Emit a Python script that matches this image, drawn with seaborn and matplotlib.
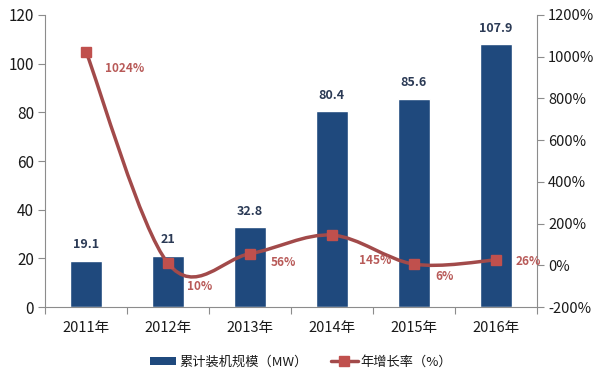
import numpy as np
import matplotlib
matplotlib.use("Agg")
import matplotlib.pyplot as plt
from matplotlib.path import Path
from matplotlib.patches import PathPatch, Patch
from matplotlib.lines import Line2D
import matplotlib.ticker as mticker
import seaborn as sns

sns.set_theme(style="white")
plt.rcParams["font.family"] = ["Noto Sans CJK SC", "DejaVu Sans"]

# ---------------------------------------------------------------------------
# Data
# ---------------------------------------------------------------------------
years = ["2011年", "2012年", "2013年", "2014年", "2015年", "2016年"]
capacity_mw = [19.1, 21, 32.8, 80.4, 85.6, 107.9]
growth_pct = [1024, 10, 56, 145, 6, 26]

BAR_COLOR = "#1F497D"
LINE_COLOR = "#A24A4A"
MARKER_COLOR = "#C0504D"
BAR_LABEL_COLOR = "#2B3A55"
PCT_LABEL_COLOR = "#B85A58"
SPINE_COLOR = "#8C8C8C"
TEXT_COLOR = "#1A1A1A"

# label offsets (points) for growth annotations
pct_offsets = [(28, -12), (23, -17), (24, -6), (31, -18), (22, -9), (23, -1)]

fig = plt.figure(figsize=(6.02, 3.82), dpi=100)
ax = fig.add_axes([0.0748, 0.196, 0.817, 0.765])

sns.barplot(x=years, y=capacity_mw, color=BAR_COLOR, width=0.39, saturation=1, ax=ax)
ax.bar_label(ax.containers[0], labels=[f"{v:g}" for v in capacity_mw], padding=7,
             fontsize=9, fontweight="bold", color=BAR_LABEL_COLOR)

ax.set_xlim(-0.5, 5.5)
ax.set_ylim(0, 120)
ax.set_yticks(range(0, 121, 20))
ax.set_xlabel("")
ax.set_ylabel("")
ax.xaxis.set_minor_locator(mticker.FixedLocator(np.arange(-0.5, 6, 1)))
ax.tick_params(axis="x", which="major", length=0, pad=10, labelsize=10.5, colors=TEXT_COLOR)
ax.tick_params(axis="x", which="minor", length=5, width=0.8, color=SPINE_COLOR, bottom=True)
ax.tick_params(axis="y", which="major", length=5, width=0.8, color=SPINE_COLOR, left=True,
               labelsize=11, labelcolor=TEXT_COLOR, pad=3)
for side in ["top", "right"]:
    ax.spines[side].set_visible(False)
for side in ["left", "bottom"]:
    ax.spines[side].set_color(SPINE_COLOR)
    ax.spines[side].set_linewidth(0.8)

# ---------------------------------------------------------------------------
# Growth rate on secondary axis, smoothed like Excel
# ---------------------------------------------------------------------------
ax2 = ax.twinx()
ax2.set_ylim(-200, 1200)
ax2.set_yticks(range(-200, 1201, 200))
ax2.yaxis.set_major_formatter(mticker.FuncFormatter(lambda v, _: f"{v:.0f}%"))
ax2.tick_params(axis="y", length=5, width=0.8, color=SPINE_COLOR, right=True,
                labelsize=10.5, labelcolor=TEXT_COLOR, pad=3)
for side in ["top", "left", "bottom"]:
    ax2.spines[side].set_visible(False)
ax2.spines["right"].set_color(SPINE_COLOR)
ax2.spines["right"].set_linewidth(0.8)
ax2.grid(False)
ax.grid(False)

xs = np.arange(len(growth_pct), dtype=float)
ys = np.array(growth_pct, dtype=float)
verts = [(xs[0], ys[0])]
codes = [Path.MOVETO]
n = len(xs)
for i in range(n - 1):
    p0 = np.array([xs[max(i - 1, 0)], ys[max(i - 1, 0)]])
    p1 = np.array([xs[i], ys[i]])
    p2 = np.array([xs[i + 1], ys[i + 1]])
    p3 = np.array([xs[min(i + 2, n - 1)], ys[min(i + 2, n - 1)]])
    c1 = p1 + (p2 - p0) / 6
    c2 = p2 - (p3 - p1) / 6
    verts += [tuple(c1), tuple(c2), tuple(p2)]
    codes += [Path.CURVE4] * 3
ax2.add_patch(PathPatch(Path(verts, codes), facecolor="none", edgecolor=LINE_COLOR,
                        lw=2.5, capstyle="round", joinstyle="round", zorder=3))
ax2.plot(xs, ys, ls="none", marker="s", ms=7, color=MARKER_COLOR, zorder=4)

for x, y, off in zip(xs, ys, pct_offsets):
    ax2.annotate(f"{y:.0f}%", (x, y), xytext=off, textcoords="offset points",
                 ha="center", va="center", fontsize=8.5, fontweight="bold",
                 color=PCT_LABEL_COLOR, zorder=5)

# ---------------------------------------------------------------------------
# Legend
# ---------------------------------------------------------------------------
handles = [
    Patch(facecolor=BAR_COLOR, edgecolor="none"),
    Line2D([0], [0], color=LINE_COLOR, lw=2.5, marker="s", ms=7,
           markerfacecolor=MARKER_COLOR, markeredgecolor=MARKER_COLOR),
]
fig.legend(handles, ["累计装机规模（MW）", "年增长率（%）"], loc="center",
           bbox_to_anchor=(0.5, 0.052), ncol=2, frameon=False, fontsize=9.5,
           handlelength=2.0, handleheight=0.5, columnspacing=1.8, handletextpad=0.2,
           labelcolor=TEXT_COLOR)

fig.savefig("out.png", dpi=100, facecolor="white")
